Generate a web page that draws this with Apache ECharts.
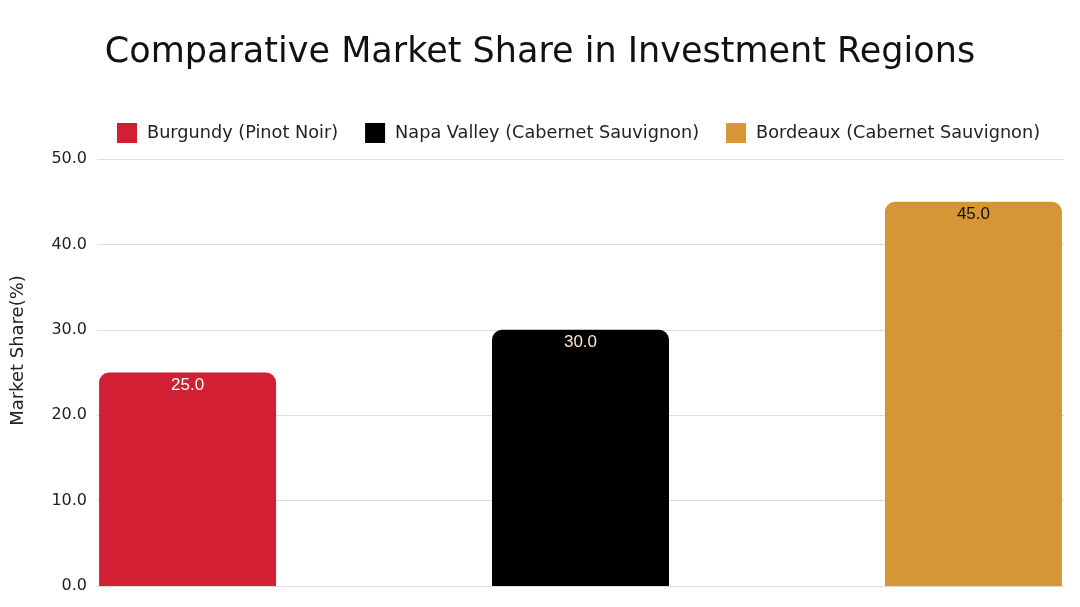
<!DOCTYPE html>
<html>
<head>
<meta charset="utf-8">
<script src="https://cdn.jsdelivr.net/npm/echarts@6/dist/echarts.min.js"></script>
<style>html,body{margin:0;padding:0;background:#fff;}#c{width:1080px;height:607px;}</style>
</head>
<body>
<div id="c"></div>
<script>
const categories = ["Market Share"];
const seriesNames = ["Burgundy (Pinot Noir)", "Napa Valley (Cabernet Sauvignon)", "Bordeaux (Cabernet Sauvignon)"];
const burgundy = [25.0];
const napa = [30.0];
const bordeaux = [45.0];
const colors = ["#d31f34", "#000000", "#d69636"];
const labelColors = ["#ffffff", "#fde6cf", "#111111"];
const values = [burgundy, napa, bordeaux];

const FONT = "DejaVu Sans";
const chart = echarts.init(document.getElementById('c'));
chart.setOption({
  animation: false,
  title: {
    text: "Comparative Market Share in Investment Regions",
    left: 'center', top: 30,
    textStyle: {fontFamily: FONT, fontSize: 35, fontWeight: 'normal', color: '#111'}
  },
  legend: {
    top: 118, left: 112,
    itemWidth: 20, itemHeight: 20, itemGap: 27,
    icon: 'rect',
    textStyle: {fontFamily: FONT, fontSize: 17.7, color: '#222', padding: [0, 0, 0, 5]},
    data: seriesNames
  },
  grid: {left: 97, right: 16, top: 159, bottom: 21},
  xAxis: {
    type: 'category', data: categories,
    axisLabel: {show: false}, axisTick: {show: false},
    axisLine: {lineStyle: {color: '#ddd'}}
  },
  yAxis: {
    type: 'value', min: 0, max: 50, interval: 10,
    name: 'Market Share(%)', nameLocation: 'middle', nameGap: 70,
    nameTextStyle: {fontFamily: FONT, fontSize: 18, color: '#222', padding: [0, 0, 0, 44]},
    axisLabel: {fontFamily: FONT, fontSize: 16, color: '#222', formatter: v => v.toFixed(1), margin: 10},
    splitLine: {lineStyle: {color: '#ddd'}}
  },
  series: seriesNames.map((n, i) => ({
    name: n, type: 'bar', data: values[i],
    barWidth: 177, barGap: '122%',
    itemStyle: {color: colors[i], borderRadius: [10, 10, 0, 0]},
    label: {show: true, position: 'insideTop', distance: 4, color: labelColors[i],
      fontFamily: 'Liberation Sans', fontSize: 17, formatter: p => p.value.toFixed(1)}
  }))
});
</script>
</body>
</html>
